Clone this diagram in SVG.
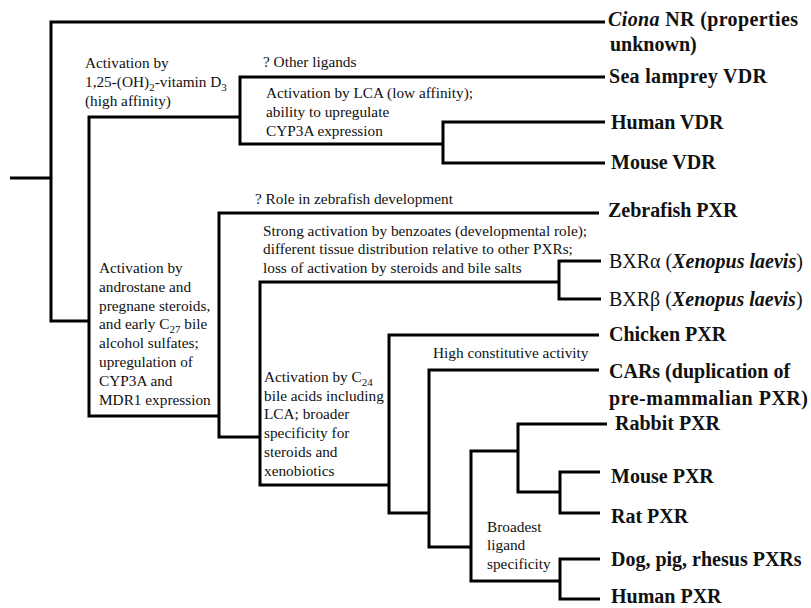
<svg xmlns="http://www.w3.org/2000/svg" width="811" height="608" viewBox="0 0 811 608">
<style>
.ln{fill:none;stroke:#000;stroke-width:3;stroke-linejoin:miter;stroke-linecap:butt}
.lf{font-family:"Liberation Serif","Times New Roman",serif;font-size:20px;font-weight:bold;fill:#111}
.rg{font-weight:normal}
.an{font-family:"Liberation Serif","Times New Roman",serif;font-size:15.3px;fill:#111}
.it{font-style:italic;font-weight:bold}
.sb{font-size:11px}
</style>
<rect width="811" height="608" fill="#fff"/>
<g id="connectors">
<path class="ln" d="M10,178 H51"/>
<path class="ln" d="M605,22 H51 V321 H89"/>
<path class="ln" d="M240,117 H89 V416 H219"/>
<path class="ln" d="M605,77 H240 V144 H443"/>
<path class="ln" d="M605,122 H443 V163 H605"/>
<path class="ln" d="M599,213 H219 V437 H260"/>
<path class="ln" d="M559,282 H260 V485 H389"/>
<path class="ln" d="M601,261 H559 V299 H601"/>
<path class="ln" d="M599,335 H389 V513 H429"/>
<path class="ln" d="M599,370 H429 V547 H471"/>
<path class="ln" d="M518,451 H471 V581 H560"/>
<path class="ln" d="M607,424 H518 V492 H560"/>
<path class="ln" d="M600,472 H560 V513 H600"/>
<path class="ln" d="M600,559 H560 V599 H600"/>
</g>
<g id="leaf-ciona"><text class="lf" x="608" y="26" textLength="190" lengthAdjust="spacing"><tspan font-style="italic">Ciona</tspan> NR (properties</text><text class="lf" x="610" y="51">unknown)</text></g>
<g id="leaf-sea-lamprey-vdr"><text class="lf" x="609" y="83" textLength="158" lengthAdjust="spacing">Sea lamprey VDR</text></g>
<g id="leaf-human-vdr"><text class="lf" x="611" y="129">Human VDR</text></g>
<g id="leaf-mouse-vdr"><text class="lf" x="611" y="169">Mouse VDR</text></g>
<g id="leaf-zebrafish-pxr"><text class="lf" x="608" y="217">Zebrafish PXR</text></g>
<g id="leaf-bxr-alpha"><text class="lf rg" x="609" y="268">BXRα (<tspan class="it">Xenopus laevis</tspan>)</text></g>
<g id="leaf-bxr-beta"><text class="lf rg" x="609" y="306">BXRβ (<tspan class="it">Xenopus laevis</tspan>)</text></g>
<g id="leaf-chicken-pxr"><text class="lf" x="609" y="341">Chicken PXR</text></g>
<g id="leaf-cars"><text class="lf" x="609" y="378">CARs (duplication of</text><text class="lf" x="609" y="405" textLength="199" lengthAdjust="spacing">pre-mammalian PXR)</text></g>
<g id="leaf-rabbit-pxr"><text class="lf" x="615" y="430">Rabbit PXR</text></g>
<g id="leaf-mouse-pxr"><text class="lf" x="611" y="483">Mouse PXR</text></g>
<g id="leaf-rat-pxr"><text class="lf" x="611" y="523">Rat PXR</text></g>
<g id="leaf-dog-pig-rhesus"><text class="lf" x="611" y="566">Dog, pig, rhesus PXRs</text></g>
<g id="leaf-human-pxr"><text class="lf" x="611" y="603">Human PXR</text></g>
<g id="label-vdr">
<text class="an" x="85" y="68">Activation by</text>
<text class="an" x="85" y="87">1,25-(OH)<tspan class="sb" dy="4">2</tspan><tspan dy="-4">-vitamin D</tspan><tspan class="sb" dy="4">3</tspan></text>
<text class="an" x="85" y="106">(high affinity)</text>
</g>
<g id="label-other-ligands"><text class="an" x="263" y="67">? Other ligands</text></g>
<g id="label-lca">
<text class="an" x="266" y="98">Activation by LCA (low affinity);</text>
<text class="an" x="266" y="117">ability to upregulate</text>
<text class="an" x="266" y="136">CYP3A expression</text>
</g>
<g id="label-zebrafish"><text class="an" x="255" y="204">? Role in zebrafish development</text></g>
<g id="label-benzoates">
<text class="an" x="263" y="236">Strong activation by benzoates (developmental role);</text>
<text class="an" x="263" y="254">different tissue distribution relative to other PXRs;</text>
<text class="an" x="263" y="273">loss of activation by steroids and bile salts</text>
</g>
<g id="label-pxr">
<text class="an" x="99" y="273">Activation by</text>
<text class="an" x="99" y="292">androstane and</text>
<text class="an" x="99" y="311">pregnane steroids,</text>
<text class="an" x="99" y="329">and early C<tspan class="sb" dy="4">27</tspan><tspan dy="-4"> bile</tspan></text>
<text class="an" x="99" y="348">alcohol sulfates;</text>
<text class="an" x="99" y="367">upregulation of</text>
<text class="an" x="99" y="386">CYP3A and</text>
<text class="an" x="99" y="405">MDR1 expression</text>
</g>
<g id="label-c24">
<text class="an" x="264" y="382">Activation by C<tspan class="sb" dy="4">24</tspan></text>
<text class="an" x="264" y="401">bile acids including</text>
<text class="an" x="264" y="419">LCA; broader</text>
<text class="an" x="264" y="438">specificity for</text>
<text class="an" x="264" y="457">steroids and</text>
<text class="an" x="264" y="476">xenobiotics</text>
</g>
<g id="label-constitutive"><text class="an" x="433" y="358">High constitutive activity</text></g>
<g id="label-broadest">
<text class="an" x="487" y="532">Broadest</text>
<text class="an" x="487" y="550">ligand</text>
<text class="an" x="487" y="569">specificity</text>
</g>
</svg>
